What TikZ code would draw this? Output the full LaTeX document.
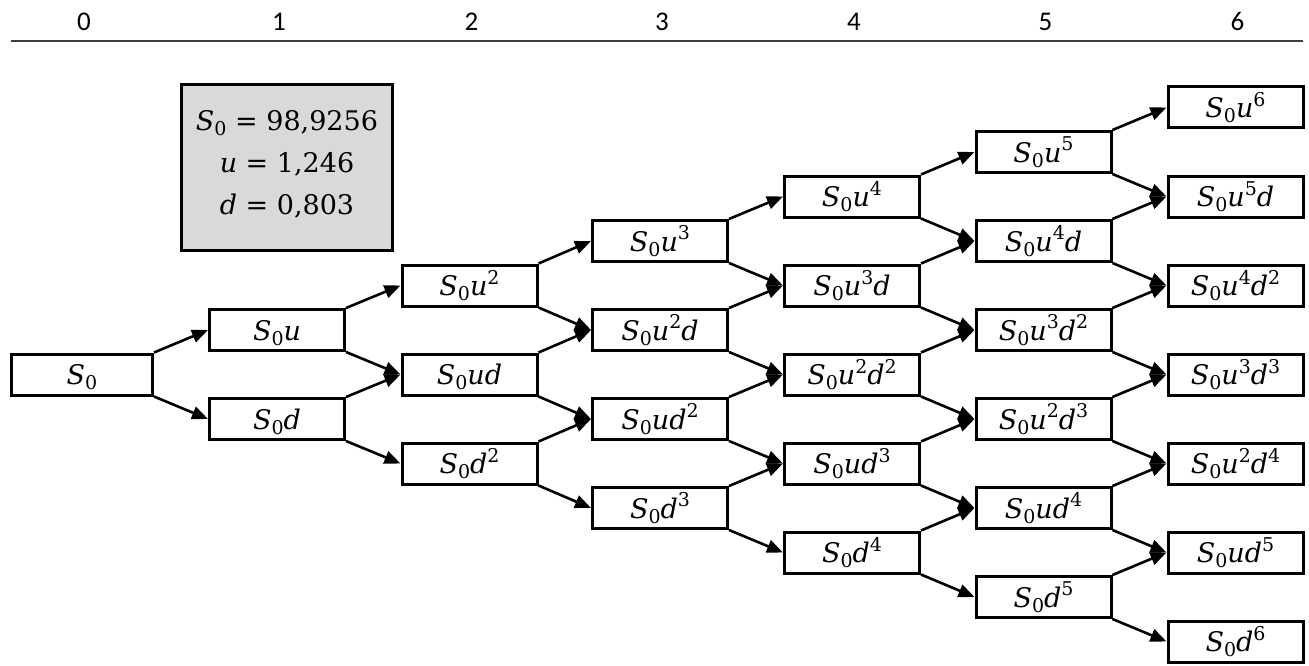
\documentclass[tikz,border=0pt]{standalone}
\usepackage{fontspec}
\setmainfont{DejaVu Serif}
\newfontfamily\hdrfont{Carlito}
\usetikzlibrary{arrows.meta}
\definecolor{paramgray}{HTML}{D9D9D9}
\definecolor{rulegray}{HTML}{404040}
% small upright digits for indices and powers
\newcommand\lo[1]{\raisebox{-0.2em}{\fontsize{19}{19}\selectfont #1}}
\newcommand\hi[1]{\raisebox{0.42em}{\fontsize{19}{19}\selectfont #1}}
\newcommand\Sn{\textit{S}\lo{0}}
\newcommand\ui{\textit{u}}
\newcommand\di{\textit{d}}

\begin{document}
\begin{tikzpicture}[x=1pt,y=-1pt,
  state/.style={draw, line width=3pt, fill=white, minimum width=135pt,
    minimum height=41pt, inner sep=0pt, text height=24pt, text depth=4pt,
    font=\fontsize{27}{32}\selectfont},
  move/.style={line width=2.6pt, -{Triangle[length=16pt,width=13pt]}},
  hdr/.style={font=\hdrfont\fontsize{27}{30}\selectfont, inner sep=0pt, anchor=base},
]
\useasboundingbox (0,0) rectangle (1309,666);

% time steps
\node[hdr] (h0) at (84,31) {0};
\node[hdr] (h1) at (279,31) {1};
\node[hdr] (h2) at (471.5,31) {2};
\node[hdr] (h3) at (662,31) {3};
\node[hdr] (h4) at (854,31) {4};
\node[hdr] (h5) at (1045.5,31) {5};
\node[hdr] (h6) at (1237.5,31) {6};
\coordinate (rl) at (11,41);
\coordinate (rr) at (1303,41);
\draw[rulegray, line width=1.6pt] (rl) -- (rr);

% parameters
\node[draw, line width=3pt, fill=paramgray, minimum width=211pt,
  minimum height=166pt] (params) at (287,167.5) {};
\node[align=center, font=\fontsize{27}{42}\selectfont] (ptext) at (287,164)
  {\Sn{} = 98,9256\\ \ui{} = 1,246\\ \di{} = 0,803};

% lattice: node nJI = step J with I up-moves
\node[state, minimum width=141pt] (n00) at (82,374.5) {\Sn};

\node[state] (n11) at (277,330) {\Sn\ui};
\node[state] (n10) at (277,419) {\Sn\di};

\node[state] (n22) at (469.5,285.5) {\Sn\ui\hi{2}};
\node[state] (n21) at (469.5,374.5) {\Sn\ui\di};
\node[state] (n20) at (469.5,463.5) {\Sn\di\hi{2}};

\node[state] (n33) at (660,241) {\Sn\ui\hi{3}};
\node[state] (n32) at (660,330) {\Sn\ui\hi{2}\di};
\node[state] (n31) at (660,419) {\Sn\ui\di\hi{2}};
\node[state] (n30) at (660,508) {\Sn\di\hi{3}};

\node[state] (n44) at (852,196.5) {\Sn\ui\hi{4}};
\node[state] (n43) at (852,285.5) {\Sn\ui\hi{3}\di};
\node[state] (n42) at (852,374.5) {\Sn\ui\hi{2}\di\hi{2}};
\node[state] (n41) at (852,463.5) {\Sn\ui\di\hi{3}};
\node[state] (n40) at (852,552.5) {\Sn\di\hi{4}};

\node[state] (n55) at (1043.5,152) {\Sn\ui\hi{5}};
\node[state] (n54) at (1043.5,241) {\Sn\ui\hi{4}\di};
\node[state] (n53) at (1043.5,330) {\Sn\ui\hi{3}\di\hi{2}};
\node[state] (n52) at (1043.5,419) {\Sn\ui\hi{2}\di\hi{3}};
\node[state] (n51) at (1043.5,508) {\Sn\ui\di\hi{4}};
\node[state] (n50) at (1043.5,597) {\Sn\di\hi{5}};

\node[state] (n66) at (1235.5,107.5) {\Sn\ui\hi{6}};
\node[state] (n65) at (1235.5,196.5) {\Sn\ui\hi{5}\di};
\node[state] (n64) at (1235.5,285.5) {\Sn\ui\hi{4}\di\hi{2}};
\node[state] (n63) at (1235.5,374.5) {\Sn\ui\hi{3}\di\hi{3}};
\node[state] (n62) at (1235.5,463.5) {\Sn\ui\hi{2}\di\hi{4}};
\node[state] (n61) at (1235.5,552.5) {\Sn\ui\di\hi{5}};
\node[state] (n60) at (1235.5,641.5) {\Sn\di\hi{6}};

% up-moves leave from the upper corner, down-moves from the lower corner
\foreach \j in {0,...,5}{
  \foreach \i in {0,...,\j}{
    \pgfmathtruncatemacro\nj{\j+1}
    \pgfmathtruncatemacro\ni{\i+1}
    \draw[move] (n\j\i.north east) -- (n\nj\ni.west);
    \draw[move] (n\j\i.south east) -- (n\nj\i.west);
  }
}
\end{tikzpicture}
\end{document}
